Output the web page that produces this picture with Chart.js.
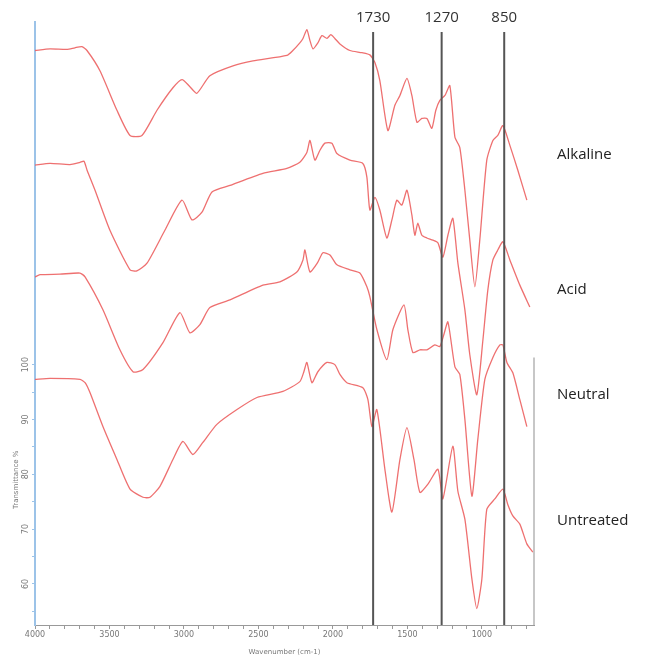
<!DOCTYPE html>
<html>
<head>
<meta charset="utf-8">
<title>FTIR spectra</title>
<script src="https://cdn.jsdelivr.net/npm/chart.js@4.4.1/dist/chart.umd.min.js"></script>
<style>
  html, body { margin: 0; padding: 0; background: #fff; }
  canvas { display: block; }
</style>
</head>
<body>
<canvas id="grafico" width="653" height="657"></canvas>
<script>
// Espectros FTIR (transmitância, com deslocamento vertical entre amostras)
var nomesAmostras = ['Alkaline', 'Acid', 'Neutral', 'Untreated'];

var wnAlkaline = [4000, 3899, 3785, 3732, 3685, 3651, 3564, 3450, 3362, 3282, 3181, 3074, 3013, 2960, 2913, 2826, 2671, 2537, 2309, 2269, 2222, 2201, 2175, 2154, 2134, 2101, 2074, 2040, 2014, 1987, 1953, 1886, 1805, 1752, 1718, 1685, 1631, 1584, 1550, 1503, 1470, 1436, 1403, 1369, 1336, 1309, 1282, 1248, 1215, 1181, 1148, 1114, 1081, 1047, 1014, 967, 926, 893, 859, 812, 759, 698];
var tAlkaline = [157.3, 157.6, 157.5, 157.8, 158.0, 157.3, 153.6, 146.4, 141.8, 141.8, 146.4, 150.5, 152.0, 150.7, 149.5, 152.7, 154.5, 155.4, 156.4, 157.3, 158.7, 159.5, 161.1, 159.1, 157.6, 158.7, 160.0, 159.5, 160.2, 159.5, 158.5, 157.3, 156.9, 156.5, 155.1, 151.8, 142.7, 147.3, 149.1, 152.2, 149.1, 144.2, 144.9, 144.9, 143.1, 146.4, 148.2, 149.1, 150.9, 141.5, 139.6, 131.8, 122.7, 114.2, 122.7, 137.3, 140.9, 141.8, 143.6, 140.0, 135.5, 130.0];

var wnAcid = [4000, 3899, 3765, 3698, 3671, 3651, 3597, 3497, 3362, 3316, 3248, 3128, 3013, 2946, 2879, 2812, 2691, 2470, 2309, 2222, 2175, 2154, 2121, 2087, 2054, 2007, 1973, 1886, 1799, 1772, 1752, 1718, 1685, 1638, 1604, 1571, 1537, 1503, 1470, 1450, 1430, 1403, 1369, 1329, 1295, 1262, 1228, 1195, 1161, 1114, 1081, 1034, 993, 960, 926, 893, 859, 812, 745, 678];
var tAcid = [136.4, 136.7, 136.5, 136.9, 137.1, 135.5, 131.8, 124.5, 117.3, 117.1, 118.5, 124.5, 130.0, 126.4, 127.8, 131.5, 132.7, 134.9, 135.8, 136.9, 138.7, 140.9, 137.3, 139.1, 140.4, 140.4, 138.5, 137.3, 136.7, 134.2, 128.2, 130.5, 128.2, 123.1, 126.4, 130.0, 129.1, 131.8, 127.3, 123.6, 125.8, 123.6, 123.1, 122.7, 122.2, 119.6, 123.6, 126.7, 118.5, 110.0, 101.8, 94.5, 104.5, 113.6, 119.1, 120.9, 122.4, 119.1, 114.5, 110.5];

var wnNeutral = [4000, 3966, 3832, 3698, 3664, 3544, 3430, 3342, 3275, 3141, 3027, 2960, 2893, 2826, 2691, 2470, 2356, 2242, 2201, 2188, 2154, 2101, 2067, 2020, 1973, 1886, 1819, 1772, 1752, 1705, 1638, 1597, 1523, 1497, 1463, 1416, 1369, 1316, 1282, 1255, 1228, 1181, 1148, 1114, 1067, 1027, 980, 926, 879, 859, 832, 792, 745, 698];
var tNeutral = [116.0, 116.4, 116.5, 116.7, 116.0, 110.0, 102.7, 98.7, 99.1, 104.0, 109.5, 105.8, 107.3, 110.4, 111.8, 114.5, 115.1, 116.9, 119.1, 120.9, 116.9, 118.7, 120.4, 120.0, 118.2, 117.3, 116.7, 114.2, 112.4, 106.4, 100.9, 106.4, 110.9, 106.4, 102.2, 102.7, 102.7, 103.6, 103.3, 105.5, 107.8, 99.6, 98.2, 90.0, 76.0, 86.4, 97.3, 101.3, 103.6, 103.6, 100.4, 98.5, 93.6, 88.7];

var wnUntreated = [4000, 3899, 3698, 3664, 3631, 3544, 3450, 3362, 3275, 3228, 3161, 3074, 3007, 2940, 2873, 2779, 2644, 2510, 2336, 2222, 2195, 2175, 2141, 2101, 2040, 1987, 1953, 1906, 1799, 1765, 1738, 1705, 1651, 1604, 1550, 1503, 1456, 1416, 1362, 1295, 1262, 1195, 1161, 1114, 1067, 1034, 1000, 967, 913, 859, 826, 792, 745, 698, 658];
var tUntreated = [97.3, 97.5, 97.3, 96.7, 94.9, 88.7, 82.7, 77.3, 75.8, 75.8, 77.8, 82.7, 86.0, 83.6, 85.8, 89.1, 91.8, 94.0, 95.1, 96.9, 98.7, 100.4, 96.7, 98.7, 100.4, 100.0, 98.2, 96.7, 95.8, 93.6, 88.7, 91.8, 80.9, 73.1, 82.7, 88.5, 82.7, 76.7, 78.2, 80.9, 75.5, 85.1, 76.9, 71.8, 60.9, 55.5, 60.9, 73.6, 75.5, 77.3, 74.5, 72.4, 70.9, 67.3, 65.8];

// Posição vertical (em %T) de cada nome de amostra à direita
var tRotulos = [138.2, 113.6, 94.5, 71.6];

// Bandas marcadas com linhas verticais
var bandasMarcadas = [1730, 1270, 850];

// Marcas dos eixos
var xRotulos = [4000, 3500, 3000, 2500, 2000, 1500, 1000];
var yRotulos = [60, 70, 80, 90, 100];

function montarSerie(wn, t) {
    return wn.map(function(v, i) {
        return { x: v, y: t[i] };
    });
}

var series = [
    montarSerie(wnAlkaline, tAlkaline),
    montarSerie(wnAcid, tAcid),
    montarSerie(wnNeutral, tNeutral),
    montarSerie(wnUntreated, tUntreated)
];

// Plugin que desenha as linhas das bandas, os nomes e os textos rodados
var anotacoes = {
    id: 'anotacoes',
    afterDatasetsDraw: function(chart) {
        var ctx = chart.ctx;
        var xs = chart.scales.x;
        var ys = chart.scales.y;
        var area = chart.chartArea;
        ctx.save();

        // moldura direita do gráfico de baixo
        ctx.strokeStyle = '#b5b5b5';
        ctx.lineWidth = 1.5;
        ctx.beginPath();
        ctx.moveTo(area.right, ys.getPixelForValue(101.3));
        ctx.lineTo(area.right, area.bottom);
        ctx.stroke();

        // linhas verticais das bandas
        ctx.strokeStyle = '#555';
        ctx.lineWidth = 2;
        ctx.fillStyle = '#333';
        ctx.font = '15px "Open Sans", sans-serif';
        ctx.textAlign = 'center';
        ctx.textBaseline = 'middle';
        bandasMarcadas.forEach(function(b) {
            var px = xs.getPixelForValue(b);
            ctx.beginPath();
            ctx.moveTo(px, 32);
            ctx.lineTo(px, area.bottom);
            ctx.stroke();
            ctx.fillText(String(b), px, 18);
        });

        // nomes das amostras
        ctx.textAlign = 'left';
        ctx.fillStyle = '#222';
        ctx.font = '15px "Open Sans", sans-serif';
        nomesAmostras.forEach(function(nome, i) {
            ctx.fillText(nome, 557, ys.getPixelForValue(tRotulos[i]));
        });

        // rótulos do eixo y, rodados
        ctx.fillStyle = '#777';
        ctx.font = '8px "DejaVu Sans", sans-serif';
        ctx.textAlign = 'center';
        yRotulos.forEach(function(v) {
            ctx.save();
            ctx.translate(26, ys.getPixelForValue(v));
            ctx.rotate(-Math.PI / 2);
            ctx.fillText(String(v), 0, 0);
            ctx.restore();
        });

        // título do eixo y
        ctx.save();
        ctx.translate(16, ys.getPixelForValue(79));
        ctx.rotate(-Math.PI / 2);
        ctx.font = '7px "DejaVu Sans", sans-serif';
        ctx.fillText('Transmittance %', 0, 0);
        ctx.restore();

        ctx.restore();
    }
};

var contexto = document.getElementById('grafico').getContext('2d');

var meuGrafico = new Chart(contexto, {
    type: 'line',
    data: {
        datasets: series.map(function(s, i) {
            return {
                label: nomesAmostras[i],
                data: s,
                borderColor: 'rgba(236, 96, 96, 0.9)',
                borderWidth: 1.3,
                pointRadius: 0,
                tension: 0.2,
                fill: false
            };
        })
    },
    options: {
        responsive: false,
        animation: false,
        layout: { padding: { top: 22, right: 119, left: 0, bottom: 0 } },
        plugins: {
            legend: { display: false },
            tooltip: { enabled: false }
        },
        scales: {
            x: {
                type: 'linear',
                reverse: true,
                min: 650,
                max: 4000,
                afterFit: function(scale) { scale.height = 32; },
                afterBuildTicks: function(scale) {
                    var marcas = [];
                    for (var v = 4000; v >= 700; v -= 100) marcas.push({ value: v });
                    scale.ticks = marcas;
                },
                border: { color: '#999', width: 1 },
                grid: { drawOnChartArea: false, tickLength: 4, color: '#999' },
                ticks: {
                    autoSkip: false,
                    maxRotation: 0,
                    padding: 1,
                    color: '#777',
                    font: { size: 8, family: 'DejaVu Sans' },
                    callback: function(v) {
                        return xRotulos.indexOf(v) >= 0 ? String(v) : '';
                    }
                },
                title: {
                    display: true,
                    text: 'Wavenumber (cm-1)',
                    color: '#777',
                    font: { size: 7, family: 'DejaVu Sans' },
                    padding: { top: 0, bottom: 1 }
                }
            },
            y: {
                type: 'linear',
                min: 52.5,
                max: 162.5,
                afterFit: function(scale) { scale.width = 35; },
                afterBuildTicks: function(scale) {
                    var marcas = [];
                    for (var v = 55; v <= 100; v += 5) marcas.push({ value: v });
                    scale.ticks = marcas;
                },
                border: { color: '#9cc3e8', width: 2 },
                grid: { drawOnChartArea: false, tickLength: 3, color: '#9cc3e8' },
                ticks: {
                    callback: function() { return ''; }
                }
            }
        }
    },
    plugins: [anotacoes]
});
</script>
</body>
</html>
